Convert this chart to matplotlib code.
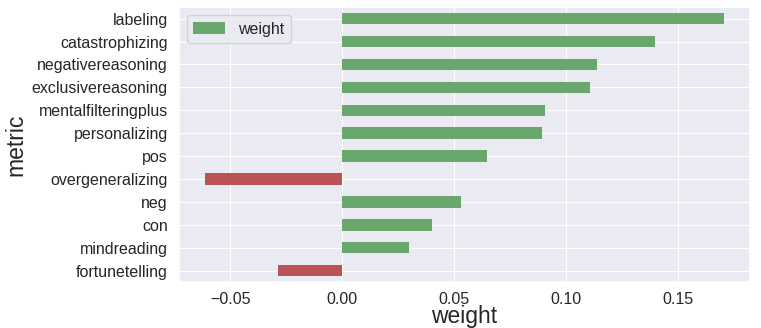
import matplotlib
matplotlib.use("Agg")
import matplotlib.pyplot as plt
import seaborn as sns
import numpy as np

sns.set_theme(style="darkgrid")
plt.rcParams['font.family'] = ['Liberation Sans', 'DejaVu Sans']

metrics = ["fortunetelling", "mindreading", "con", "neg", "overgeneralizing", "pos",
           "personalizing", "mentalfilteringplus", "exclusivereasoning",
           "negativereasoning", "catastrophizing", "labeling"]
weights = [-0.0288, 0.0297, 0.0401, 0.0533, -0.0613, 0.0648,
           0.0893, 0.0907, 0.1105, 0.1138, 0.1398, 0.1704]

green = "#6aa76c"
red = "#b85454"
colors = [green if w > 0 else red for w in weights]

fig, ax = plt.subplots(figsize=(7.61, 3.28), dpi=100)
pos = np.arange(len(metrics))
ax.barh(pos, weights, height=0.5, color=colors, linewidth=0, label="weight")
ax.set_yticks(pos)
ax.set_yticklabels(metrics)
ax.set_ylim(-0.5, len(metrics) - 0.5)
ax.margins(x=0.05)
ax.set_xticks([-0.05, 0.0, 0.05, 0.10, 0.15])
ax.grid(True, linewidth=0.8)
ax.tick_params(axis='both', labelsize=11.5, pad=2, labelcolor="#262626")
ax.tick_params(axis='x', pad=1)
ax.set_xlabel("weight", fontsize=16.5, labelpad=-1)
ax.set_ylabel("metric", fontsize=16.5, labelpad=3)
leg = ax.legend(loc="upper left", fontsize=11.5)
for h in leg.legend_handles:
    h.set_color(green)
fig.subplots_adjust(left=0.235, right=0.985, top=0.978, bottom=0.14)
fig.savefig("out.png", dpi=100)
